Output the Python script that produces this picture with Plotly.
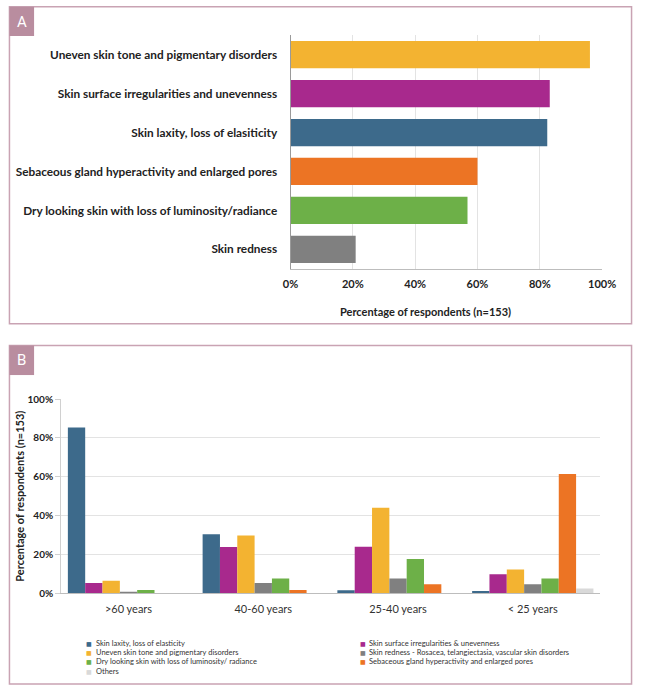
import plotly.graph_objects as go

W, H = 647, 693

# ---------------- Panel A data ----------------
concerns_a = [
    "Uneven skin tone and pigmentary disorders",
    "Skin surface irregularities and unevenness",
    "Skin laxity, loss of elasiticity",
    "Sebaceous gland hyperactivity and enlarged pores",
    "Dry looking skin with loss of luminosity/radiance",
    "Skin redness",
]
pct_a = [96.1, 83.2, 82.4, 60.0, 56.8, 20.9]
colors_a = ["#f3b331", "#a8298d", "#3d6a8b", "#ec7424", "#6db048", "#808080"]
ticks_a = [0, 20, 40, 60, 80, 100]

# ---------------- Panel B data ----------------
age_groups = [">60 years", "40-60 years", "25-40 years", "< 25 years"]
series_names = [
    "Skin laxity, loss of elasticity",
    "Skin surface irregularities & unevenness",
    "Uneven skin tone and pigmentary disorders",
    "Skin redness - Rosacea, telangiectasia, vascular skin disorders",
    "Dry looking skin with loss of luminosity/ radiance",
    "Sebaceous gland hyperactivity and enlarged pores",
    "Others",
]
laxity = [85.4, 30.4, 1.5, 1.2]
surface = [5.3, 23.8, 24.0, 9.8]
tone = [6.4, 29.8, 44.0, 12.2]
redness = [0.7, 5.3, 7.6, 4.6]
dry = [1.7, 7.6, 17.7, 7.6]
sebaceous = [0.0, 1.7, 4.6, 61.5]
others = [0.0, 0.0, 0.0, 2.4]
series_values = [laxity, surface, tone, redness, dry, sebaceous, others]
series_colors = ["#3d6a8b", "#a8298d", "#f3b331", "#808080", "#6db048", "#ec7424", "#d9d9d9"]
ticks_b = [0, 20, 40, 60, 80, 100]


def px(x):
    return x / W


def py(y):
    return 1 - y / H


FONT = "Lato"
fig = go.Figure()

# Panel A bars
fig.add_trace(go.Bar(
    x=pct_a, y=concerns_a, orientation="h",
    marker=dict(color=colors_a, line=dict(width=0)),
    width=0.7, xaxis="x", yaxis="y", showlegend=False,
))

# Panel B bars
for name, vals, col in zip(series_names, series_values, series_colors):
    fig.add_trace(go.Bar(
        x=age_groups, y=vals, name=name,
        marker=dict(color=col, line=dict(width=0)),
        xaxis="x2", yaxis="y2", showlegend=False,
    ))

frame_col = "#c9a3b3"
box_col = "#b98d9f"
shapes = [
    dict(type="rect", xref="paper", yref="paper", x0=px(1.5), x1=px(645.5), y0=py(323), y1=py(0.8),
         line=dict(color=frame_col, width=1.5), fillcolor="rgba(0,0,0,0)"),
    dict(type="rect", xref="paper", yref="paper", x0=px(1.5), x1=px(27), y0=py(30.5), y1=py(0.8),
         line=dict(width=0), fillcolor=box_col),
    dict(type="rect", xref="paper", yref="paper", x0=px(1.5), x1=px(645.5), y0=py(689), y1=py(345),
         line=dict(color=frame_col, width=1.5), fillcolor="rgba(0,0,0,0)"),
    dict(type="rect", xref="paper", yref="paper", x0=px(1.5), x1=px(27), y0=py(375), y1=py(345),
         line=dict(width=0), fillcolor=box_col),
]

annotations = [
    dict(text="A", xref="paper", yref="paper", x=px(14), y=py(16), showarrow=False,
         font=dict(family="Roboto", size=15, color="white"), xanchor="center", yanchor="middle"),
    dict(text="B", xref="paper", yref="paper", x=px(14), y=py(360), showarrow=False,
         font=dict(family="Roboto", size=15, color="white"), xanchor="center", yanchor="middle"),
    dict(text="<b>Percentage of respondents (n=153)</b>", xref="paper", yref="paper",
         x=px(431.7), y=py(310), showarrow=False, xanchor="center", yanchor="middle",
         font=dict(family=FONT, size=11, color="#222")),
    dict(text="<b>Percentage of respondents (n=153)</b>", xref="paper", yref="paper",
         x=px(12), y=py(498), showarrow=False, xanchor="center", yanchor="middle", textangle=-90,
         font=dict(family=FONT, size=11, color="#222")),
]

# Legend for panel B (two columns, row-wise)
for i, (name, col) in enumerate(zip(series_names, series_colors)):
    cx = 84 if i % 2 == 0 else 367
    cy = 647.3 + (i // 2) * 9.6
    annotations.append(dict(text="■", xref="paper", yref="paper", x=px(cx), y=py(cy),
                            showarrow=False, xanchor="center", yanchor="middle",
                            font=dict(family="DejaVu Sans", size=6, color=col)))
    annotations.append(dict(text=name, xref="paper", yref="paper", x=px(cx + 5), y=py(cy),
                            showarrow=False, xanchor="left", yanchor="middle",
                            font=dict(family=FONT, size=7.5, color="#333")))

fig.update_layout(
    width=W, height=H,
    margin=dict(l=0, r=0, t=0, b=0),
    paper_bgcolor="white", plot_bgcolor="white",
    barmode="group", bargap=0.1, bargroupgap=0,
    showlegend=False,
    shapes=shapes, annotations=annotations,
    xaxis=dict(domain=[px(292.5), px(615)], range=[0, 100], tickvals=ticks_a,
               ticktext=[f"<b>{t}%</b>" for t in ticks_a],
               showgrid=True, gridcolor="#e3e3e3", gridwidth=1,
               showline=True, linecolor="#bdbdbd", linewidth=1, zeroline=False,
               ticks="", ticklabelstandoff=5,
               tickfont=dict(family=FONT, size=11, color="#222"), anchor="y", fixedrange=True),
    yaxis=dict(domain=[py(267), py(29.7)], autorange="reversed",
               tickvals=concerns_a, ticktext=[f"<b>{c}</b>" for c in concerns_a],
               showline=True, linecolor="#9a9a9a", linewidth=1, showgrid=False, ticks="",
               ticklabelstandoff=10,
               tickfont=dict(family=FONT, size=11.8, color="#222"), anchor="x"),
    xaxis2=dict(domain=[px(55), px(613)], anchor="y2", showline=True, linecolor="#bdbdbd",
                linewidth=1, ticks="", ticklabelstandoff=6,
                tickfont=dict(family=FONT, size=11, color="#333"), showgrid=False),
    yaxis2=dict(domain=[py(596.7), py(399.5)], anchor="x2", range=[0, 100], tickvals=ticks_b,
                ticktext=[f"<b>{t}%</b>" for t in ticks_b],
                showgrid=True, gridcolor="#e3e3e3", gridwidth=1, zeroline=False,
                showline=True, linecolor="#d0d0d0", linewidth=1,
                ticks="outside", ticklen=5, tickcolor="#d0d0d0",
                tickfont=dict(family=FONT, size=10, color="#222")),
)

fig.write_html("out.html", config={"displayModeBar": False},
               post_script="document.body.style.margin='0';")
